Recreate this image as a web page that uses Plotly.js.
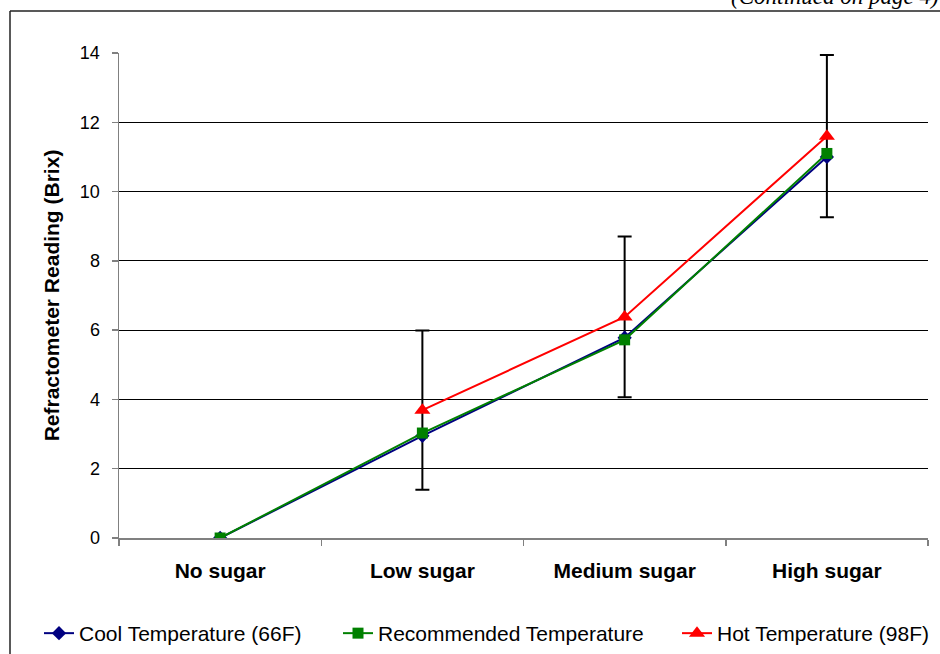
<!DOCTYPE html>
<html>
<head>
<meta charset="utf-8">
<script src="https://cdn.plot.ly/plotly-3.0.1.min.js"></script>
<style>html,body{margin:0;padding:0;background:#fff;}#chart{width:940px;height:654px;}</style>
</head>
<body>
<div id="chart"></div>
<script>
const categories = ["No sugar", "Low sugar", "Medium sugar", "High sugar"];
const coolValues = [0, 2.95, 5.78, 11.0];
const recommendedValues = [0, 3.03, 5.72, 11.1];
const hotValues = [null, 3.69, 6.38, 11.6];
const hotErrors = [0, 2.3, 2.32, 2.34];
const yTicks = [0, 2, 4, 6, 8, 10, 12, 14];
const seriesNames = ["Cool Temperature (66F)", "Recommended Temperature", "Hot Temperature (98F)"];
const noteText = "(Continued on page 4)";

const W = 940, H = 654, L = 119, R = 12, T = 53, B = 116;
const pw = W - L - R, ph = H - T - B;
const px = x => (x - L) / pw;
const py = y => (H - B - y) / ph;

const traces = [
  {
    x: categories, y: hotValues, type: "scatter", mode: "markers",
    marker: {size: 1, opacity: 0}, showlegend: false, hoverinfo: "skip",
    error_y: {type: "data", array: hotErrors, visible: true, color: "#000000", thickness: 2, width: 7}
  },
  {
    x: categories, y: coolValues, name: seriesNames[0], type: "scatter", mode: "lines+markers",
    legend: "legend",
    line: {color: "#000080", width: 2},
    marker: {symbol: "diamond", size: 11, color: "#000080"}
  },
  {
    x: categories, y: recommendedValues, name: seriesNames[1], type: "scatter", mode: "lines+markers",
    legend: "legend2",
    line: {color: "#008000", width: 2},
    marker: {symbol: "square", size: 11, color: "#008000"}
  },
  {
    x: categories, y: hotValues, name: seriesNames[2], type: "scatter", mode: "lines+markers",
    legend: "legend3",
    line: {color: "#FF0000", width: 2}, connectgaps: false,
    marker: {symbol: "triangle-up", size: 14, color: "#FF0000"}
  }
];

function legendAt(xPix) {
  return {
    orientation: "h", x: px(xPix), xanchor: "left", y: py(613), yanchor: "top",
    font: {size: 21, color: "#000000"}, bgcolor: "rgba(0,0,0,0)", itemclick: false
  };
}

const layout = {
  width: W, height: H,
  margin: {l: L, r: R, t: T, b: B, pad: 0, autoexpand: false},
  paper_bgcolor: "#ffffff", plot_bgcolor: "#ffffff",
  font: {family: "Arial, Liberation Sans, sans-serif", color: "#000000"},
  showlegend: true,
  legend: legendAt(39),
  legend2: legendAt(338),
  legend3: legendAt(677),
  xaxis: {
    type: "category", range: [-0.5, 3.5], fixedrange: true,
    showgrid: false, zeroline: false,
    showline: true, linecolor: "#808080", linewidth: 1.5,
    ticks: "outside", tickson: "boundaries", ticklen: 6, tickcolor: "#808080", tickwidth: 1.5,
    tickfont: {size: 21, family: "Arial, Liberation Sans, sans-serif", weight: "bold"},
    ticklabelstandoff: 13
  },
  yaxis: {
    range: [0, 14], tickvals: yTicks, fixedrange: true,
    showgrid: true, gridcolor: "#000000", gridwidth: 1,
    zeroline: false,
    showline: true, linecolor: "#808080", linewidth: 1.5,
    ticks: "outside", ticklen: 6, tickcolor: "#808080", tickwidth: 1.5,
    tickfont: {size: 18},
    ticklabelstandoff: 8,
    automargin: false,
    title: {text: "<b>Refractometer Reading (Brix)</b>", font: {size: 21}, standoff: 14}
  },
  shapes: [
    {type: "line", xref: "paper", yref: "paper", x0: px(10), x1: px(945), y0: py(11), y1: py(11),
     line: {color: "#222222", width: 1.5}},
    {type: "line", xref: "paper", yref: "paper", x0: px(10), x1: px(10), y0: py(11), y1: py(660),
     line: {color: "#222222", width: 1.5}}
  ],
  annotations: [
    {text: "<i>" + noteText + "</i>", xref: "paper", yref: "paper", x: px(941), xanchor: "right",
     y: py(-3), yanchor: "middle", showarrow: false,
     font: {family: "Liberation Serif, Times New Roman, serif", size: 23, color: "#000000"}}
  ]
};

Plotly.newPlot("chart", traces, layout, {displayModeBar: false, staticPlot: true});
</script>
</body>
</html>
